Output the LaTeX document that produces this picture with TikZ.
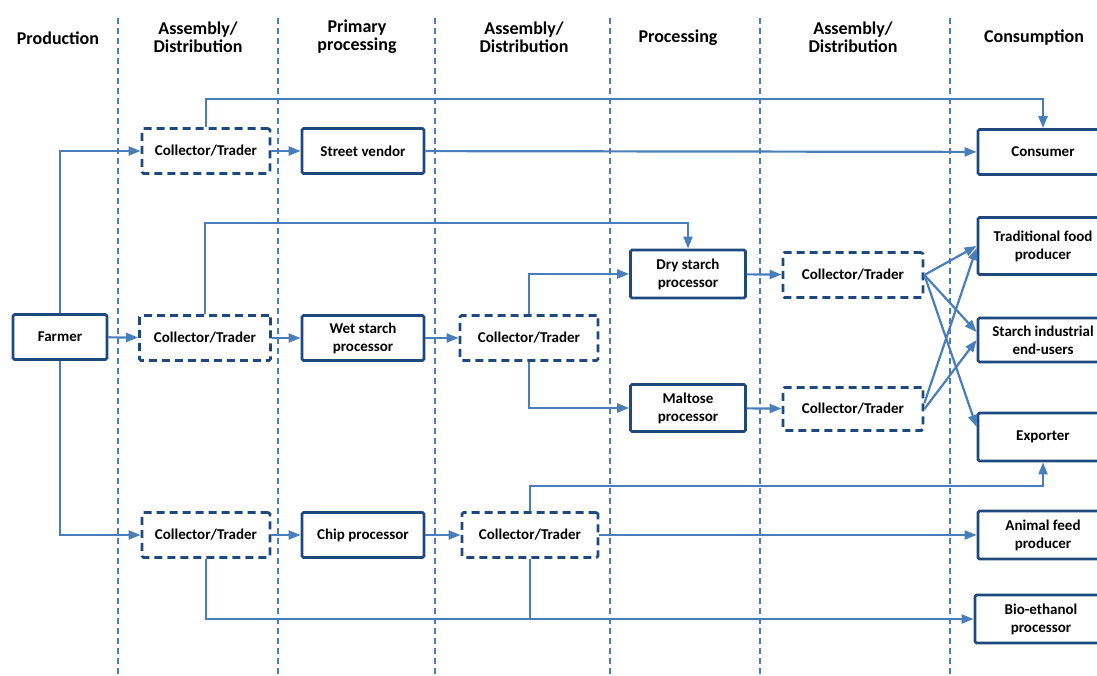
\documentclass[tikz,border=0pt]{standalone}
\usepackage{fontspec}
\setmainfont{Carlito}
\usetikzlibrary{arrows.meta}
\definecolor{boxblue}{HTML}{1F497D}
\definecolor{lineblue}{HTML}{4A7EBB}
\begin{document}
\begin{tikzpicture}[x=1pt,y=-1pt,font=\bfseries\fontsize{15}{18}\selectfont,
  box/.style={draw=boxblue,line width=2.8pt,rounded corners=1.5pt,fill=white,
    minimum height=45pt,inner sep=1pt,align=center},
  tbox/.style={box,dash pattern=on 8pt off 5pt},
  sink/.style={box,minimum width=130pt},
  link/.style={draw=lineblue,line width=2.2pt,-{Triangle[length=12pt,width=9pt]}},
  plainlink/.style={draw=lineblue,line width=2.2pt},
  head/.style={font=\bfseries\fontsize{18}{18}\selectfont,align=center}]
\useasboundingbox (0,0) rectangle (1097,676);
\foreach \x in {118,278,435,610,760,950}
  \draw[lineblue,line width=1.6pt,dash pattern=on 6pt off 4pt] (\x,18) -- (\x,676);
\node[head] (hProd) at (58,38) {Production};
\node[head] (hAsmA) at (198,37) {Assembly/\\Distribution};
\node[head] (hPrim) at (357,37) {Primary\\processing};
\node[head] (hAsmB) at (524,37) {Assembly/\\Distribution};
\node[head] (hProc) at (678,38) {Processing};
\node[head] (hAsmC) at (853,37) {Assembly/\\Distribution};
\node[head] (hCons) at (1034,38) {Consumption};
\node[box,minimum width=94pt] (farmer) at (60,337) {Farmer};
\node[tbox,minimum width=128pt] (ctA) at (206,151) {Collector/Trader};
\node[box,minimum width=122pt] (vendor) at (363,151) {Street vendor};
\node[tbox,minimum width=131pt] (ctB) at (205,338) {Collector/Trader};
\node[box,minimum width=122pt] (wet) at (363,338) {Wet starch\\processor};
\node[tbox,minimum width=138pt] (ctC) at (529,338) {Collector/Trader};
\node[box,minimum width=115pt,minimum height=48pt] (dry) at (688,274) {Dry starch\\processor};
\node[box,minimum width=115pt,minimum height=47pt] (malt) at (688,408) {Maltose\\processor};
\node[tbox,minimum width=140pt] (ctD) at (853,275) {Collector/Trader};
\node[tbox,minimum width=140pt,minimum height=43pt] (ctE) at (853,409) {Collector/Trader};
\node[tbox,minimum width=128pt] (ctF) at (206,535) {Collector/Trader};
\node[box,minimum width=122pt] (chip) at (363,535) {Chip processor};
\node[tbox,minimum width=136pt] (ctG) at (530,535) {Collector/Trader};
\node[sink] (consumer) at (1043,152) {Consumer};
\node[sink,minimum height=57pt] (trad) at (1043,246) {Traditional food\\producer};
\node[sink,minimum height=44pt] (starch) at (1043,340) {Starch industrial\\end-users};
\node[sink,minimum height=48pt] (exporter) at (1043,437) {Exporter};
\node[sink,minimum height=48pt] (feed) at (1043,535) {Animal feed\\producer};
\node[sink,minimum width=132pt,minimum height=48pt] (bio) at (1041,619) {Bio-ethanol\\processor};
\draw[link] (farmer.north) |- (ctA);
\draw[link] (farmer) -- (ctB);
\draw[link] (farmer.south) |- (ctF);
\draw[link] (ctA) -- (vendor);
\draw[link] (ctA.north) -- ++(0,-28) -| (consumer.north);
\draw[link] (vendor) -- (consumer);
\draw[link] (ctB) -- (wet);
\draw[link] (ctB.north) -- ++(0,-91) -| (dry.north);
\draw[link] (wet) -- (ctC);
\draw[link] (ctC.north) |- (dry);
\draw[link] (ctC.south) |- (malt);
\draw[link] (dry) -- (ctD);
\draw[link] (malt) -- (ctE);
\draw[link] (ctD.east) -- (trad.west);
\draw[link] (ctD.east) -- ([yshift=8pt]starch.west);
\draw[link] (ctD.east) -- ([yshift=10pt]exporter.west);
\draw[link] ([yshift=6pt]ctE.east) -- ([yshift=-2pt]trad.west);
\draw[link] (ctE.east) -- (starch.west);
\draw[link] (ctF) -- (chip);
\draw[link] (chip) -- (ctG);
\draw[link] (ctG.north) -- ++(0,-25) -| (exporter.south);
\draw[link] (ctG) -- (feed);
\draw[link] (ctF.south) |- (bio);
\draw[plainlink] (ctG.south) -- (ctG.south |- bio);
\end{tikzpicture}
\end{document}
